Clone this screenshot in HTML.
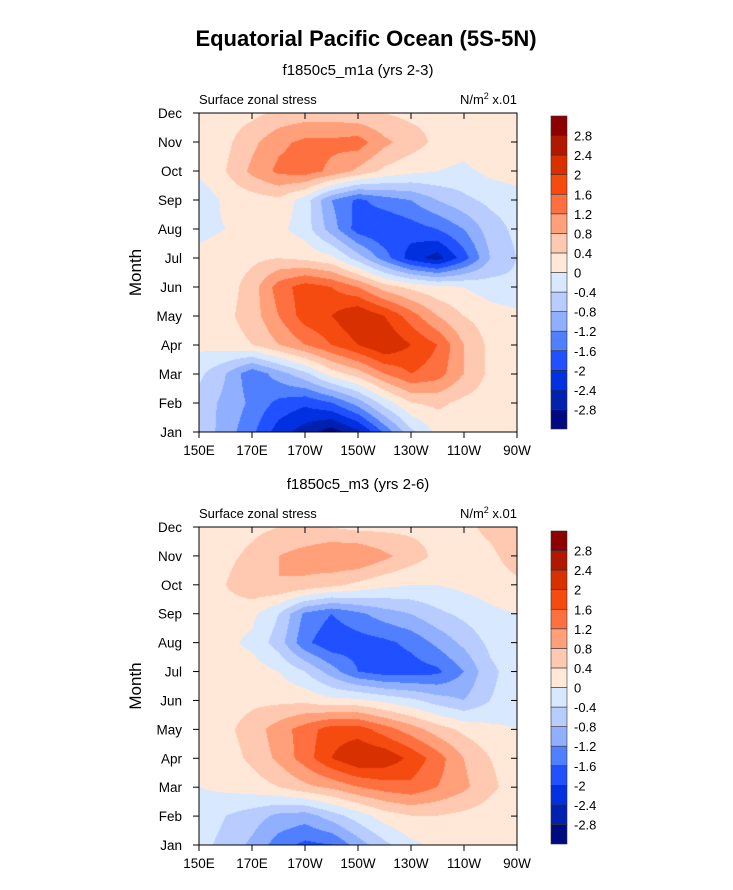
<!DOCTYPE html>
<html><head><meta charset="utf-8">
<style>
body{margin:0;background:#fff;width:733px;height:890px;position:relative;overflow:hidden;font-family:"Liberation Sans",Arial,sans-serif}
canvas{position:absolute}
svg{position:absolute;left:0;top:0}
</style></head>
<body>
<canvas id="c1" width="318" height="319" style="left:199px;top:113px"></canvas>
<canvas id="c2" width="318" height="318" style="left:199px;top:527px"></canvas>
<svg id="s" width="733" height="890"></svg>
<script>
const months=["Jan","Feb","Mar","Apr","May","Jun","Jul","Aug","Sep","Oct","Nov","Dec"];
const lons=[150,160,170,180,190,200,210,220,230,240,250,260,270];
const lonTicks=[150,170,190,210,230,250,270];
const lonTickLabels=["150E","170E","170W","150W","130W","110W","90W"];
const levels=[-2.8,-2.4,-2,-1.6,-1.2,-0.8,-0.4,0,0.4,0.8,1.2,1.6,2,2.4,2.8];
const levelLabels=["-2.8","-2.4","-2","-1.6","-1.2","-0.8","-0.4","0","0.4","0.8","1.2","1.6","2","2.4","2.8"];
const colors=["#000a80","#0020b0","#0030e0","#2050ff","#5080ff","#90b0ff","#b8ccff","#d8e8ff","#ffe8d8","#ffc8b0","#ffa07a","#ff7040","#f54a10","#d93000","#b01800","#8c0000"];
const dataTop=[
[-0.5,-1.0,-1.5,-2.2,-2.6,-3.0,-2.5,-1.5,-0.5,0.1,0.2,0.2,0.1],
[-0.6,-0.9,-1.3,-1.7,-1.9,-1.6,-1.0,-0.2,0.4,0.5,0.3,0.2,0.1],
[-0.3,-0.8,-1.5,-1.0,-0.5,0.2,0.6,1.2,1.6,1.4,0.8,0.3,0.1],
[0.1,0.2,0.4,0.8,1.2,1.6,2.0,2.4,2.0,1.6,0.8,0.3,0.2],
[0.1,0.3,0.6,1.2,1.8,2.0,2.4,2.0,1.4,0.8,0.4,0.2,0.1],
[0.1,0.2,0.6,1.4,1.8,1.6,1.2,0.6,0.3,0.1,0.0,-0.2,-0.3],
[0.1,0.2,0.3,0.4,0.3,0.1,-0.6,-1.4,-2.2,-2.6,-1.8,-0.8,-0.4],
[-0.1,0.0,0.2,0.1,-0.2,-1.0,-1.8,-2.0,-1.8,-1.6,-1.2,-0.6,-0.3],
[-0.3,0.1,0.2,0.3,-0.2,-1.2,-1.7,-1.4,-1.2,-0.8,-0.5,-0.3,-0.2],
[0.1,0.4,0.9,1.3,1.4,1.1,0.7,0.3,0.1,0.0,-0.1,0.1,0.2],
[0.1,0.3,0.7,1.1,1.3,1.3,1.4,0.9,0.6,0.3,0.2,0.3,0.3],
[0.1,0.2,0.3,0.5,0.6,0.6,0.5,0.4,0.3,0.3,0.2,0.3,0.4]];
const dataBottom=[
[-0.3,-0.5,-0.9,-1.4,-1.7,-1.6,-1.0,-0.5,-0.1,0.1,0.2,0.2,0.1],
[-0.2,-0.4,-0.6,-0.9,-1.0,-0.6,-0.2,0.2,0.4,0.4,0.3,0.2,0.1],
[0.0,0.1,0.2,0.4,0.7,0.9,1.2,1.4,1.5,1.2,0.9,0.5,0.2],
[0.1,0.2,0.5,0.9,1.4,2.0,2.4,2.3,1.9,1.4,0.8,0.4,0.2],
[0.1,0.3,0.6,1.0,1.4,1.8,1.8,1.4,1.0,0.6,0.3,0.1,0.0],
[0.1,0.2,0.3,0.3,0.3,0.1,0.1,-0.1,-0.3,-0.6,-0.8,-0.4,-0.2],
[0.1,0.2,0.2,0.0,-0.4,-1.0,-1.6,-1.8,-1.8,-1.7,-1.2,-0.5,-0.2],
[0.0,0.1,-0.1,-0.6,-1.5,-1.9,-1.8,-1.7,-1.5,-1.1,-0.7,-0.3,-0.1],
[0.0,0.2,0.1,-0.4,-1.3,-1.6,-1.3,-1.0,-0.8,-0.5,-0.3,-0.1,0.0],
[0.1,0.4,0.7,0.8,0.7,0.5,0.3,0.1,0.0,0.0,0.1,0.2,0.3],
[0.2,0.3,0.5,0.8,1.0,1.2,1.2,0.9,0.6,0.3,0.2,0.3,0.6],
[0.1,0.2,0.3,0.4,0.4,0.4,0.3,0.3,0.3,0.3,0.3,0.5,0.8]];

function hex(c){return [parseInt(c.substr(1,2),16),parseInt(c.substr(3,2),16),parseInt(c.substr(5,2),16)];}
const rgb=colors.map(hex);
function colorIdx(v){let i=0;while(i<levels.length&&v>=levels[i])i++;return i;}
function drawField(id,data){
  const cv=document.getElementById(id),ctx=cv.getContext('2d');
  const W=cv.width,H=cv.height,img=ctx.createImageData(W,H);
  const nr=data.length,nc=data[0].length;
  for(let py=0;py<H;py++){
    const fy=(1-py/(H-1))*(nr-1);const r0=Math.min(Math.floor(fy),nr-2);const ty=fy-r0;
    for(let px=0;px<W;px++){
      const fx=px/(W-1)*(nc-1);const c0=Math.min(Math.floor(fx),nc-2);const tx=fx-c0;
      const v=(data[r0][c0]*(1-tx)+data[r0][c0+1]*tx)*(1-ty)+(data[r0+1][c0]*(1-tx)+data[r0+1][c0+1]*tx)*ty;
      const c=rgb[colorIdx(v)],k=(py*W+px)*4;
      img.data[k]=c[0];img.data[k+1]=c[1];img.data[k+2]=c[2];img.data[k+3]=255;
    }
  }
  ctx.putImageData(img,0,0);
}
drawField('c1',dataTop);drawField('c2',dataBottom);

const NS="http://www.w3.org/2000/svg",svg=document.getElementById('s');
function el(t,a,txt){const e=document.createElementNS(NS,t);for(const k in a)e.setAttribute(k,a[k]);if(txt!==undefined)e.textContent=txt;svg.appendChild(e);return e;}
let t=el('text',{x:366,y:46,'text-anchor':'middle','font-size':22,'font-weight':'bold'},'Equatorial Pacific Ocean (5S-5N)');



function panel(top,h,title,cbTop,cbBot,pname){
  const L=199,R=517,B=top+h;
  const xS=lon=>L+(lon-150)/120*(R-L);
  const yS=m=>B-m/11*h;
  let e=el('text',{x:358,y:top-38,'text-anchor':'middle','font-size':15},title);
  
  
  e=el('text',{x:L,y:top-9,'font-size':13},'Surface zonal stress');
  
  
  e=el('text',{x:R,y:top-9,'font-size':13,'text-anchor':'end'});
  e.innerHTML='N/m<tspan dy="-5" font-size="9">2</tspan><tspan dy="5"> x.01</tspan>';
  
  
  e=el('rect',{x:L,y:top,width:R-L,height:h,fill:'none',stroke:'#000','stroke-width':1});
  
  
  months.forEach((m,i)=>{
    const y=yS(i);
    let k=el('line',{x1:L,x2:L-6,y1:y,y2:y,stroke:'#000'});
    
    
    k=el('line',{x1:R,x2:R-6,y1:y,y2:y,stroke:'#000'});
    
    
    k=el('text',{x:L-17,y:y+5,'text-anchor':'end','font-size':13.5},m);
    
    
  });
  lonTicks.forEach((lo,i)=>{
    const x=xS(lo);
    let k=el('line',{x1:x,x2:x,y1:B,y2:B+6,stroke:'#000'});
    
    
    k=el('line',{x1:x,x2:x,y1:top,y2:top+6,stroke:'#000'});
    
    
    k=el('text',{x:x,y:B+23,'text-anchor':'middle','font-size':13.5},lonTickLabels[i]);
    
    
  });
  e=el('text',{x:0,y:0,'text-anchor':'middle','font-size':17,transform:`translate(141,${top+h/2}) rotate(-90)`},'Month');
  
  
  const n=colors.length,bh=(cbBot-cbTop)/n;
  colors.forEach((c,i)=>{
    const y=cbBot-(i+1)*bh;
    let r=el('rect',{x:551,y:y,width:16,height:bh,fill:c,stroke:'#333','stroke-width':0.6});
    
    
  });
  levelLabels.forEach((lb,i)=>{
    const y=cbBot-(i+1)*bh;
    let k=el('text',{x:574,y:y+5,'font-size':13},lb);
    
    
  });
}
panel(113,319,'f1850c5_m1a (yrs 2-3)',116,429,'top-panel');
panel(527,318,'f1850c5_m3 (yrs 2-6)',531,844,'bottom-panel');
</script>
</body></html>
